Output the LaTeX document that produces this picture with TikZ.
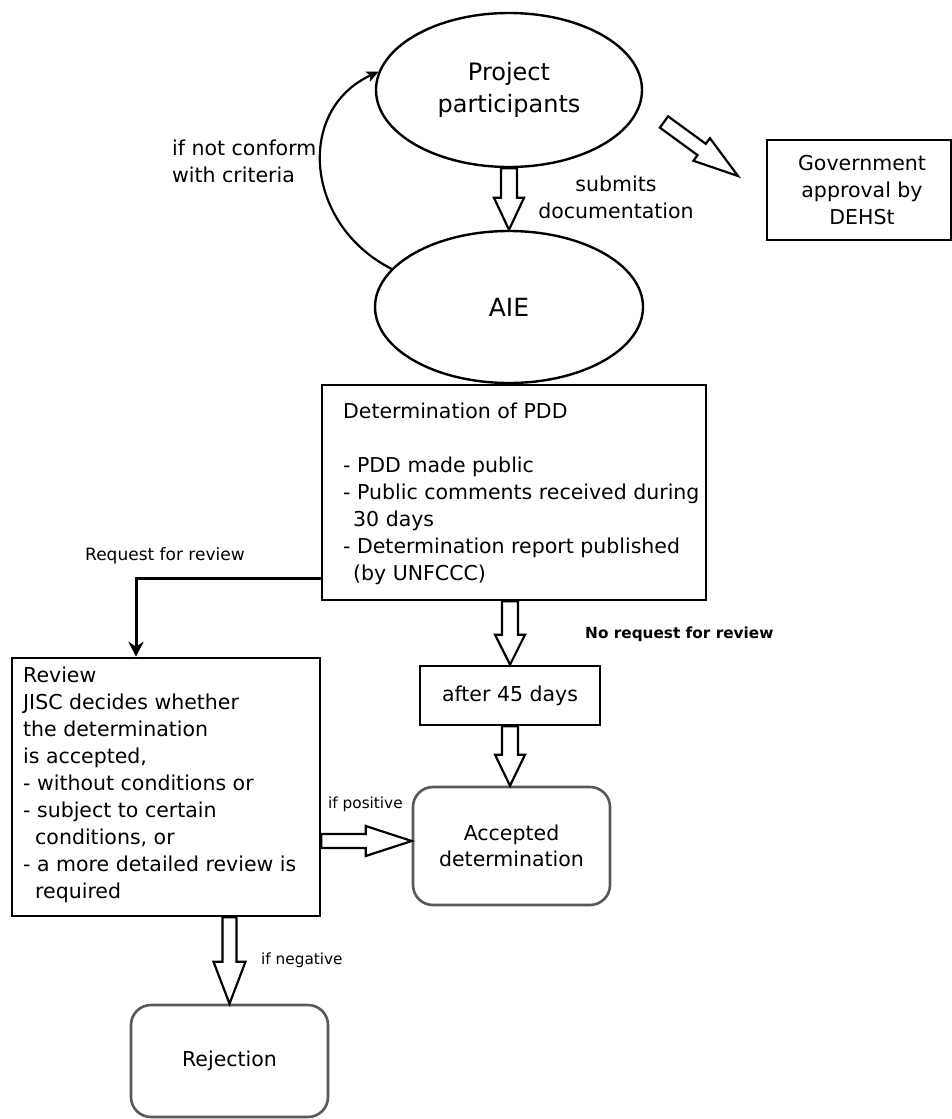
\documentclass[tikz,border=0pt]{standalone}
\usepackage{fontspec}
\setmainfont{DejaVu Sans}
\usetikzlibrary{shapes.geometric,calc,arrows.meta}

% Block arrow drawn as an outlined polygon:
% #1 shaft half-width, #2 head half-width, #3 head length, #4 tail point, #5 tip point
\newcommand\hollowarrow[5]{%
  \coordinate (ha-s) at (#4);
  \coordinate (ha-t) at (#5);
  \coordinate (ha-h) at ($(ha-t)!#3!(ha-s)$);
  \draw[hollow] ($(ha-s)!#1!90:(ha-t)$) -- ($(ha-h)!#1!-90:(ha-s)$)
    -- ($(ha-h)!#2!-90:(ha-s)$) -- (ha-t) -- ($(ha-h)!#2!90:(ha-s)$)
    -- ($(ha-h)!#1!90:(ha-s)$) -- ($(ha-s)!#1!-90:(ha-t)$) -- cycle;
}

\begin{document}
\begin{tikzpicture}[x=1pt,y=-1pt,
  main/.style={font=\fontsize{20.5}{27}\selectfont},
  oval/.style={ellipse, draw, line width=2.4pt, inner sep=0pt},
  box/.style={rectangle, draw, line width=2.6pt, inner sep=0pt, main},
  rbox/.style={rectangle, draw=black!65, line width=2.6pt, rounded corners=20pt, inner sep=0pt, main},
  txt/.style={inner sep=0pt, align=left, anchor=north west, main},
  lbl/.style={inner sep=0pt, anchor=north west, font=\fontsize{15.3}{18}\selectfont},
  hollow/.style={draw, line width=2.2pt, fill=white, line join=miter},
  reqline/.style={line width=3pt, -{Stealth[length=15pt,width=15pt,inset=5pt]}},
  backarrow/.style={line width=2.2pt, -{Stealth[length=12pt,width=11pt,inset=3pt]}}]

\useasboundingbox (0,0) rectangle (952,1119);
\fill[white] (0,0) rectangle (952,1119);

% ellipses
\node[oval, minimum width=266pt, minimum height=154pt, align=center,
      font=\fontsize{24}{32}\selectfont] (pp) at (509,90) {Project\\participants};
\node[oval, minimum width=268pt, minimum height=152pt,
      font=\fontsize{25}{30}\selectfont] (aie) at (509,307) {AIE};

% boxes
\node[box, minimum width=184pt, minimum height=100pt, align=center] (gov) at (859,190)
  {\hspace*{6pt}Government\\\hspace*{6pt}approval by\\\hspace*{6pt}DEHSt};
\node[box, minimum width=384pt, minimum height=215pt] (det) at (514,492.5) {};
\node[txt] (dettext) at (343,403) {Determination of PDD\\ \\- PDD made public\\- Public comments received during\\\hspace*{10pt}30 days\\- Determination report published\\\hspace*{10pt}(by UNFCCC)};
\node[box, minimum width=180pt, minimum height=59pt] (after45) at (510,695.5) {after 45 days};
\node[box, minimum width=308pt, minimum height=258pt] (rev) at (166,787) {};
\node[txt] (revtext) at (23,667) {Review\\JISC decides whether\\the determination\\is accepted,\\- without conditions or\\- subject to certain\\\hspace*{12pt}conditions, or\\- a more detailed review is\\\hspace*{12pt}required};
\node[rbox, minimum width=197pt, minimum height=118pt, align=center,
      font=\fontsize{20.5}{26}\selectfont] (acc) at (511.5,846) {Accepted\\determination};
\node[rbox, minimum width=197pt, minimum height=112pt] (rej) at (229.5,1061) {Rejection};

% labels
\node[txt] (lblconform) at (172,140) {if not conform\\with criteria};
\node[txt, align=center, anchor=north] (lblsubmit) at (616,176) {submits\\documentation};
\node[lbl, font=\fontsize{17}{20}\selectfont] (lblreq) at (85,547) {Request for review};
\node[lbl, font=\fontsize{15.3}{18}\selectfont\bfseries] (lblnoreq) at (585,627) {No request for review};
\node[lbl] (lblpos) at (328,797) {if positive};
\node[lbl] (lblneg) at (261,953) {if negative};

% block arrows
\hollowarrow{8pt}{15pt}{32pt}{pp.south}{aie.north}
\coordinate (govtail) at (664,122);
\coordinate (govtip) at (738,176);
\hollowarrow{7pt}{14pt}{45pt}{govtail}{govtip}
\hollowarrow{8pt}{15pt}{30pt}{after45.north |- det.south}{after45.north}
\hollowarrow{8pt}{15pt}{31pt}{after45.south}{after45.south |- acc.north}
\coordinate (posrow) at (0,841);
\hollowarrow{7pt}{15pt}{46pt}{rev.east |- posrow}{acc.west |- posrow}
\hollowarrow{7pt}{16pt}{42pt}{rev.south -| rej.north}{rej.north}

% request for review
\coordinate (reqturn) at (136,578);
\draw[reqline] (det.west |- reqturn) -- (reqturn) -- (reqturn |- rev.north);

% back to the participants
\draw[backarrow] (aie.162) .. controls (305,225) and (295,110) .. (pp.172);

\end{tikzpicture}
\end{document}
